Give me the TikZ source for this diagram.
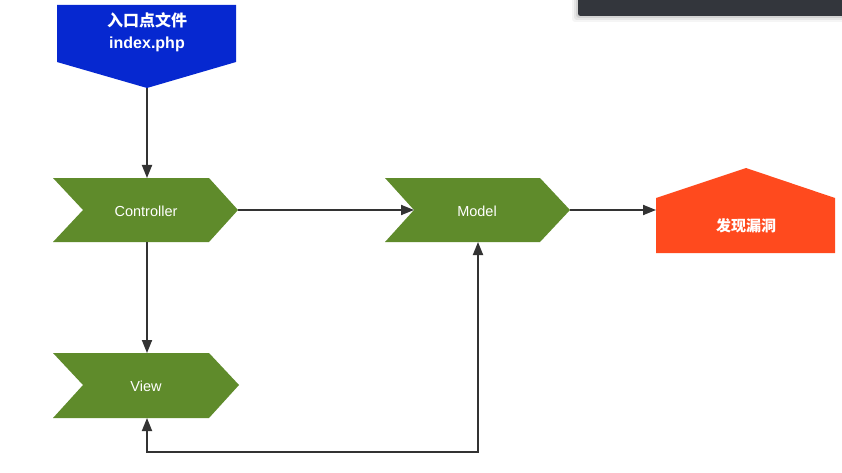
\documentclass[tikz,border=0pt]{standalone}
\usepackage{fontspec}
\setmainfont{Liberation Sans}
\newfontfamily\cjk{Noto Sans CJK SC}
\usetikzlibrary{arrows.meta}
\definecolor{entryblue}{HTML}{0628D0}
\definecolor{stepgreen}{HTML}{5F8B2B}
\definecolor{vulnred}{HTML}{FF4A1E}
\definecolor{linegray}{HTML}{333333}
\definecolor{barcol}{HTML}{33363C}
\begin{document}
\begin{tikzpicture}[x=1pt,y=-1pt,
  tip/.style={Triangle[length=13pt,width=10pt]},
  conn/.style={draw=linegray,line width=1.8pt,-{Triangle[length=13pt,width=10pt]}},
  lbl/.style={text=white,inner sep=0pt,font=\fontsize{14.5}{16}\selectfont},
  boldlbl/.style={text=white,inner sep=0pt,align=center,font=\bfseries\fontsize{16}{22}\selectfont}]
\useasboundingbox (0,0) rectangle (842,473);
\fill[white] (0,0) rectangle (842,473);
% dark bar with soft shadow
\foreach \o/\a in {6/0.04,4/0.06,2/0.08}{
  \fill[black,opacity=\a,rounded corners=3pt] (578-\o,-5) -- (578-\o,16+\o) -- (850,16+\o) -- (850,-5) -- cycle;}
\fill[barcol,rounded corners=2.5pt] (578,-5) -- (578,16) -- (850,16) -- (850,-5) -- cycle;
% entry shape
\fill[entryblue] (57,5) -- (236,5) -- (236,62) -- (147,88) -- (57,62) -- cycle;
\node[boldlbl] (entry) at (147,32) {{\cjk 入口点文件}\\index.php};
\coordinate (entryS) at (147,88);
% Controller
\fill[stepgreen] (53,178) -- (209,178) -- (238,210) -- (209,242) -- (53,242) -- (83,210) -- cycle;
\node[lbl] (ctrl) at (146,211) {Controller};
\coordinate (ctrlN) at (147,178);
\coordinate (ctrlS) at (147,242);
\coordinate (ctrlE) at (238,210);
% View
\fill[stepgreen] (53,353) -- (209,353) -- (239,385) -- (209,418) -- (53,418) -- (83,385) -- cycle;
\node[lbl] (view) at (146,386) {View};
\coordinate (viewN) at (147,353);
\coordinate (viewS) at (147,418);
% Model
\fill[stepgreen] (385,178) -- (540,178) -- (570,210) -- (540,242) -- (385,242) -- (414,210) -- cycle;
\node[lbl] (model) at (477,211) {Model};
\coordinate (modelW) at (414,210);
\coordinate (modelE) at (570,210);
\coordinate (modelS) at (478,242);
% vulnerability
\fill[vulnred] (656,198) -- (746,168) -- (835,198) -- (835,253) -- (656,253) -- cycle;
\node[boldlbl,font=\cjk\bfseries\fontsize{15}{17}\selectfont] (vuln) at (746,226) {发现漏洞};
\coordinate (vulnW) at (656,210);
% connectors
\draw[conn] (entryS) -- (ctrlN);
\draw[conn] (ctrlS) -- (viewN);
\draw[conn] (ctrlE) -- (modelW);
\draw[conn] (modelE) -- (vulnW);
\coordinate (bl) at (147,452);
\coordinate (br) at (478,452);
\draw[conn,{Triangle[length=13pt,width=10pt]}-{Triangle[length=13pt,width=10pt]}] (viewS) -- (bl) -- (br) -- (modelS);
\end{tikzpicture}
\end{document}
